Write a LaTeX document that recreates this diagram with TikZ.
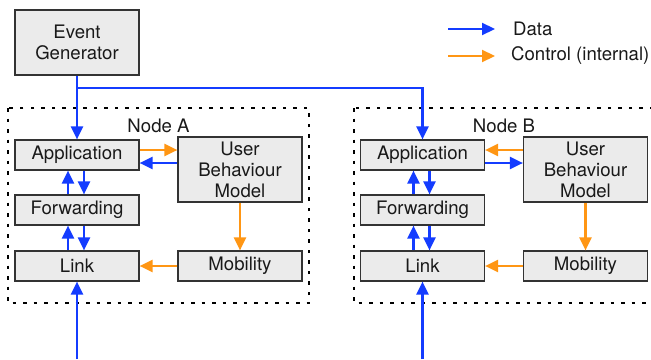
\documentclass[tikz,border=0pt]{standalone}
\usepackage{fontspec}
\setmainfont{TeX Gyre Heros}
\usetikzlibrary{arrows.meta}
\definecolor{datablue}{RGB}{20,60,255}
\definecolor{ctrlorange}{RGB}{255,150,20}
\definecolor{boxgray}{RGB}{235,235,235}

\begin{document}
\begin{tikzpicture}[x=1pt, y=-1pt,
    layer/.style={draw=black!80, line width=1.2pt, fill=boxgray, minimum width=124pt, minimum height=30pt, align=center, inner sep=0pt},
    data/.style={datablue, line width=2.2pt, -{Triangle[length=13pt,width=12pt]}},
    ctrl/.style={ctrlorange, line width=2.2pt, -{Triangle[length=13pt,width=12pt]}},
    nodebox/.style={line width=2.5pt, dash pattern=on 3.5pt off 7pt},
    every node/.style={font=\fontsize{18.6}{21}\selectfont, text=black!90}]
    \clip (0,0) rectangle (651,359);
    % simulated nodes
    \draw [nodebox] (8,108) rectangle (309,303);
    \draw [nodebox] (354,108) rectangle (655,303);
    \node (labA) at (158.5,126) {Node A};
    \node (labB) at (504,126) {Node B};
    % event source
    \node [layer, minimum height=65pt] (gen) at (77,42.5) {Event\\Generator};
    % node A stack
    \node [layer] (appA) at (77,155) {Application};
    \node [layer] (fwdA) at (77,210) {Forwarding};
    \node [layer] (linkA) at (77,266) {Link};
    \node [layer, minimum height=65pt] (ubmA) at (240,169.5) {User\\Behaviour\\Model};
    \node [layer] (mobA) at (240,266) {Mobility};
    % node B stack
    \node [layer] (appB) at (422.5,155) {Application};
    \node [layer] (fwdB) at (422.5,210) {Forwarding};
    \node [layer] (linkB) at (422.5,266) {Link};
    \node [layer, minimum height=65pt] (ubmB) at (585.5,169.5) {User\\Behaviour\\Model};
    \node [layer] (mobB) at (585.5,266) {Mobility};
    % legend
    \coordinate (legD1) at (448,29);
    \coordinate (legD2) at (495,29);
    \coordinate (legC1) at (448,56);
    \coordinate (legC2) at (495,56);
    \draw [data] (legD1) -- (legD2);
    \draw [ctrl] (legC1) -- (legC2);
    \node [anchor=west, inner sep=0pt] (legData) at (513,29) {Data};
    \node [anchor=west, inner sep=0pt] (legCtrl) at (511,56) {Control (internal)};
    % events
    \coordinate (split) at (77,88);
    \draw [data] (gen.south) -- (appA.north);
    \draw [data] (split) -| (appB.north);
    \coordinate (inA) at (77,359);
    \coordinate (inB) at (422.5,359);
    \draw [data] (inA) -- (linkA.south);
    \draw [data] (inB) -- (linkB.south);
    % stacks
    \foreach \n in {A,B} {
      \draw [data] ([xshift=-9pt]fwd\n.north) -- ([xshift=-9pt]app\n.south);
      \draw [data] ([xshift=7pt]app\n.south) -- ([xshift=7pt]fwd\n.north);
      \draw [data] ([xshift=-9pt]link\n.north) -- ([xshift=-9pt]fwd\n.south);
      \draw [data] ([xshift=7pt]fwd\n.south) -- ([xshift=7pt]link\n.north);
      \draw [ctrl] (ubm\n.south) -- (mob\n.north);
      \draw [ctrl] (mob\n.west) -- (link\n.east);
    }
    \draw [ctrl] ([yshift=5pt]appA.east) -- ([yshift=5pt]appA.east -| ubmA.west);
    \draw [data] ([yshift=-8pt]appA.east -| ubmA.west) -- ([yshift=-8pt]appA.east);
    \draw [ctrl] ([yshift=5pt]appB.east -| ubmB.west) -- ([yshift=5pt]appB.east);
    \draw [data] ([yshift=-8pt]appB.east) -- ([yshift=-8pt]appB.east -| ubmB.west);
\end{tikzpicture}
\end{document}
